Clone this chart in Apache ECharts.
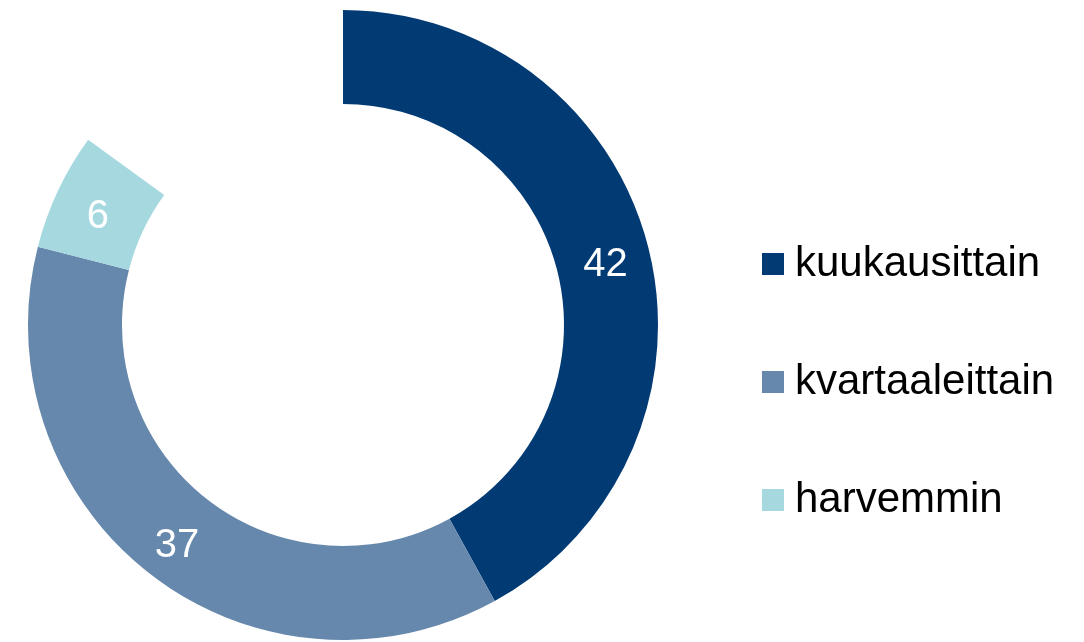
<!DOCTYPE html>
<html>
<head>
<meta charset="utf-8">
<script src="https://cdn.jsdelivr.net/npm/echarts@6/dist/echarts.min.js"></script>
<style>
  html, body { margin: 0; padding: 0; background: #fff; }
  #chart { width: 1084px; height: 642px; }
</style>
</head>
<body>
<div id="chart"></div>
<script>
// vastaukset (%), loput jää tyhjäksi
const categories = ['kuukausittain', 'kvartaaleittain', 'harvemmin'];
const values = [42, 37, 6];
const gapValue = 15;
const colors = ['#023a74', '#6788ad', '#a6d8e0'];

let myChart = echarts.init(document.getElementById('chart'));

let pieData = categories.map((name, i) => ({
    name: name,
    value: values[i],
    itemStyle: { color: colors[i] }
}));
// tyhjä osa renkaasta
pieData.push({
    name: 'gap',
    value: gapValue,
    itemStyle: { color: 'rgba(0,0,0,0)' },
    label: { show: false },
    tooltip: { show: false }
});

myChart.setOption({
    animation: false,
    legend: {
        orient: 'vertical',
        left: 762,
        top: 243,
        padding: 0,
        icon: 'rect',
        itemWidth: 22,
        itemHeight: 22,
        itemGap: 76,
        selectedMode: false,
        data: categories,
        textStyle: {
            fontFamily: 'Liberation Sans, Arial, sans-serif',
            fontSize: 42,
            lineHeight: 42,
            color: '#000',
            padding: [0, 0, 0, 6]
        }
    },
    series: [{
        type: 'pie',
        center: [343, 325],
        radius: [221, 315],
        startAngle: 90,
        clockwise: true,
        avoidLabelOverlap: false,
        emphasis: { disabled: true },
        label: {
            show: true,
            position: 'inside',
            formatter: '{c}',
            color: '#fff',
            fontFamily: 'Liberation Sans, Arial, sans-serif',
            fontSize: 40,
            offset: [0, 7]
        },
        labelLine: { show: false },
        data: pieData
    }]
});
</script>
</body>
</html>
